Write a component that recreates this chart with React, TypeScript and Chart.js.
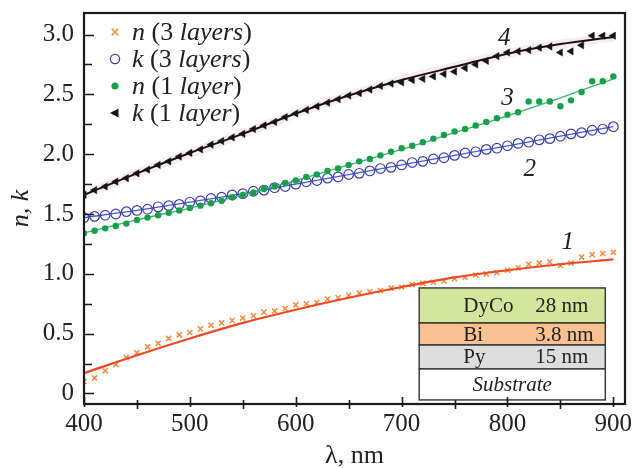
import React, { useEffect, useRef } from "react";
import { Chart, registerables } from "chart.js";

Chart.register(...registerables);

// ---------- data ----------
const LAMBDA = [
  400, 410, 420, 430, 440, 450, 460, 470, 480, 490,
  500, 510, 520, 530, 540, 550, 560, 570, 580, 590,
  600, 610, 620, 630, 640, 650, 660, 670, 680, 690,
  700, 710, 720, 730, 740, 750, 760, 770, 780, 790,
  800, 810, 820, 830, 840, 850, 860, 870, 880, 890, 900,
];
const FIT_LAMBDA = [400, 450, 500, 550, 600, 650, 700, 750, 800, 850, 900];

// n (3 layers)
const N3_POINTS = [
  0.10, 0.13, 0.19, 0.24, 0.30, 0.34, 0.39, 0.42, 0.46, 0.49,
  0.51, 0.54, 0.57, 0.59, 0.61, 0.63, 0.65, 0.68, 0.69, 0.71,
  0.74, 0.75, 0.76, 0.79, 0.80, 0.82, 0.84, 0.85, 0.86, 0.88,
  0.89, 0.91, 0.92, 0.93, 0.94, 0.96, 0.97, 0.99, 1.00, 1.01,
  1.03, 1.05, 1.08, 1.09, 1.10, 1.07, 1.09, 1.14, 1.16, 1.17, 1.18,
];
const N3_FIT = [0.17, 0.32, 0.46, 0.59, 0.70, 0.80, 0.89, 0.97, 1.03, 1.08, 1.12];

// k (3 layers)
const K3_POINTS = [
  1.47, 1.48, 1.49, 1.50, 1.52, 1.53, 1.54, 1.56, 1.57, 1.58,
  1.60, 1.61, 1.63, 1.64, 1.66, 1.67, 1.69, 1.70, 1.72, 1.73,
  1.75, 1.77, 1.78, 1.80, 1.81, 1.83, 1.84, 1.86, 1.88, 1.89,
  1.91, 1.93, 1.94, 1.96, 1.97, 1.99, 2.01, 2.02, 2.04, 2.05,
  2.07, 2.09, 2.10, 2.12, 2.13, 2.15, 2.17, 2.18, 2.20, 2.21, 2.23,
];
const K3_FIT = [1.47, 1.53, 1.60, 1.67, 1.75, 1.83, 1.91, 1.99, 2.07, 2.15, 2.23];

// n (1 layer)
const N1_POINTS = [
  1.34, 1.36, 1.38, 1.40, 1.42, 1.45, 1.47, 1.49, 1.51, 1.53,
  1.55, 1.57, 1.59, 1.61, 1.64, 1.66, 1.68, 1.71, 1.73, 1.76,
  1.78, 1.81, 1.83, 1.86, 1.88, 1.91, 1.94, 1.96, 1.99, 2.02,
  2.05, 2.07, 2.10, 2.13, 2.16, 2.19, 2.21, 2.24, 2.27, 2.30,
  2.33, 2.35, 2.44, 2.44, 2.44, 2.40, 2.45, 2.52, 2.61, 2.61, 2.65,
];
const N1_FIT = [1.34, 1.45, 1.55, 1.66, 1.78, 1.91, 2.04, 2.18, 2.32, 2.47, 2.63];

// k (1 layer)
const K1_POINTS = [
  1.66, 1.70, 1.73, 1.77, 1.80, 1.84, 1.87, 1.91, 1.94, 1.98,
  2.01, 2.04, 2.08, 2.11, 2.14, 2.17, 2.21, 2.24, 2.27, 2.31,
  2.34, 2.37, 2.40, 2.43, 2.46, 2.49, 2.51, 2.54, 2.57, 2.59,
  2.60, 2.62, 2.63, 2.65, 2.67, 2.69, 2.72, 2.75, 2.78, 2.82,
  2.85, 2.86, 2.87, 2.89, 2.90, 2.85, 2.86, 2.91, 2.99, 2.99, 2.99,
];
const K1_FIT = [1.66, 1.84, 2.01, 2.17, 2.34, 2.49, 2.62, 2.73, 2.84, 2.92, 2.98];

// axes
const X_TICKS = [400, 500, 600, 700, 800, 900];
const X_MINOR_TICKS = [450, 550, 650, 750, 850];
const Y_TICKS = [0, 0.5, 1.0, 1.5, 2.0, 2.5, 3.0];
const Y_MINOR_TICKS = [0.25, 0.75, 1.25, 1.75, 2.25, 2.75];
const X_MIN = 400;
const X_MAX = 911;
const Y_MIN = -0.088;
const Y_MAX = 3.18;

// curve numbers (data coords)
const CURVE_LABELS = ["1", "2", "3", "4"];
const CURVE_LABEL_X = [857, 821, 800, 797];
const CURVE_LABEL_Y = [1.26, 1.87, 2.47, 2.97];

// legend
const LEGEND_PARTS: [string, boolean][][] = [
  [["n", true], [" (3 ", false], ["layers", true], [")", false]],
  [["k", true], [" (3 ", false], ["layers", true], [")", false]],
  [["n", true], [" (1 ", false], ["layer", true], [")", false]],
  [["k", true], [" (1 ", false], ["layer", true], [")", false]],
];
const LEGEND_MARKERS = ["cross", "ring", "dot", "tri"];

// inset layer stack (data coords)
const INSET_NAMES = ["DyCo", "Bi", "Py", "Substrate"];
const INSET_THICK = ["28 nm", "3.8 nm", "15 nm", ""];
const INSET_COLORS = ["#d3e69b", "#f9c18f", "#dedede", "#ffffff"];
const INSET_EDGES_Y = [0.882, 0.589, 0.405, 0.205, -0.054];
const INSET_X = [716.6, 892.4];
const INSET_NAME_X = 758.2;
const INSET_THICK_X = 826.3;
const INSET_CENTER_X = 804.5;

// colours
const C_ORANGE_PT = "#f58a3a";
const C_ORANGE_LN = "#ef4a22";
const C_BLUE_PT = "#3a3fae";
const C_BLUE_LN = "#4a5cc4";
const C_GREEN_PT = "#17a04a";
const C_GREEN_LN = "#3ab56b";
const C_BLACK = "#141414";

const SERIF = '"Liberation Serif", "Times New Roman", serif';

const pts = (xs: number[], ys: number[]) => xs.map((x, i) => ({ x, y: ys[i] }));

function drawMarker(ctx: CanvasRenderingContext2D, kind: string, x: number, y: number) {
  ctx.save();
  if (kind === "cross") {
    ctx.strokeStyle = C_ORANGE_PT;
    ctx.lineWidth = 1.6;
    const r = 3.2;
    ctx.beginPath();
    ctx.moveTo(x - r, y - r); ctx.lineTo(x + r, y + r);
    ctx.moveTo(x + r, y - r); ctx.lineTo(x - r, y + r);
    ctx.stroke();
  } else if (kind === "ring") {
    ctx.strokeStyle = C_BLUE_PT;
    ctx.lineWidth = 1.3;
    ctx.beginPath();
    ctx.arc(x, y, 4.6, 0, Math.PI * 2);
    ctx.stroke();
  } else if (kind === "dot") {
    ctx.fillStyle = C_GREEN_PT;
    ctx.beginPath();
    ctx.arc(x, y, 3.6, 0, Math.PI * 2);
    ctx.fill();
  } else {
    ctx.fillStyle = C_BLACK;
    ctx.beginPath();
    ctx.moveTo(x - 5, y);
    ctx.lineTo(x + 3.5, y - 4.5);
    ctx.lineTo(x + 3.5, y + 4.5);
    ctx.closePath();
    ctx.fill();
  }
  ctx.restore();
}

const decorPlugin = {
  id: "decor",
  afterDraw(chart: any) {
    const { ctx, chartArea: a, scales } = chart;
    const xs = scales.x;
    const ys = scales.y;
    ctx.save();

    // inset layer stack
    const il = xs.getPixelForValue(INSET_X[0]);
    const ir = xs.getPixelForValue(INSET_X[1]);
    for (let i = 0; i < INSET_NAMES.length; i++) {
      const t = ys.getPixelForValue(INSET_EDGES_Y[i]);
      const b = ys.getPixelForValue(INSET_EDGES_Y[i + 1]);
      ctx.fillStyle = INSET_COLORS[i];
      ctx.fillRect(il, t, ir - il, b - t);
      ctx.strokeStyle = "#333";
      ctx.lineWidth = 1.4;
      ctx.strokeRect(il, t, ir - il, b - t);
      const cy = (t + b) / 2 + 1;
      ctx.fillStyle = "#222";
      ctx.textBaseline = "middle";
      if (INSET_THICK[i]) {
        ctx.font = `21px ${SERIF}`;
        ctx.textAlign = "left";
        ctx.fillText(INSET_NAMES[i], xs.getPixelForValue(INSET_NAME_X), cy);
        ctx.fillText(INSET_THICK[i], xs.getPixelForValue(INSET_THICK_X), cy);
      } else {
        ctx.font = `italic 21px ${SERIF}`;
        ctx.textAlign = "center";
        ctx.fillText(INSET_NAMES[i], xs.getPixelForValue(INSET_CENTER_X), cy);
      }
    }

    // frame
    ctx.strokeStyle = "#1a1a1a";
    ctx.lineWidth = 2.2;
    ctx.strokeRect(a.left, a.top, a.right - a.left, a.bottom - a.top);

    // y ticks (inward)
    ctx.lineWidth = 1.6;
    ctx.beginPath();
    Y_TICKS.forEach((v) => {
      const y = Math.round(ys.getPixelForValue(v)) + 0.5;
      ctx.moveTo(a.left, y); ctx.lineTo(a.left + 10, y);
    });
    Y_MINOR_TICKS.forEach((v) => {
      const y = Math.round(ys.getPixelForValue(v)) + 0.5;
      ctx.moveTo(a.left, y); ctx.lineTo(a.left + 8, y);
    });
    // x ticks
    X_TICKS.forEach((v) => {
      const x = Math.round(xs.getPixelForValue(v)) + 0.5;
      ctx.moveTo(x, a.bottom - 7); ctx.lineTo(x, a.bottom + 3);
    });
    X_MINOR_TICKS.forEach((v) => {
      const x = Math.round(xs.getPixelForValue(v)) + 0.5;
      ctx.moveTo(x, a.bottom - 4); ctx.lineTo(x, a.bottom + 5);
    });
    ctx.stroke();

    // curve numbers
    ctx.fillStyle = "#222";
    ctx.font = `italic 25px ${SERIF}`;
    ctx.textAlign = "center";
    ctx.textBaseline = "middle";
    CURVE_LABELS.forEach((s, i) => {
      ctx.fillText(s, xs.getPixelForValue(CURVE_LABEL_X[i]), ys.getPixelForValue(CURVE_LABEL_Y[i]));
    });

    // legend
    const mx = a.left + 31;
    const tx = a.left + 48;
    LEGEND_PARTS.forEach((parts, i) => {
      const y = a.top + 19 + i * 27;
      drawMarker(ctx, LEGEND_MARKERS[i], mx, y);
      let x = tx;
      ctx.textAlign = "left";
      ctx.textBaseline = "middle";
      ctx.fillStyle = "#222";
      parts.forEach(([txt, it]) => {
        ctx.font = `${it ? "italic " : ""}26px ${SERIF}`;
        ctx.fillText(txt, x, y + 1);
        x += ctx.measureText(txt).width;
      });
    });

    ctx.restore();
  },
};

export default function App() {
  const ref = useRef<HTMLCanvasElement | null>(null);

  useEffect(() => {
    if (!ref.current) return;
    const fitLine = (data: number[], color: string, width: number) => ({
      type: "line" as const,
      data: pts(FIT_LAMBDA, data),
      showLine: true,
      borderColor: color,
      borderWidth: width,
      pointRadius: 0,
      fill: false,
      cubicInterpolationMode: "monotone" as const,
    });
    const chart = new Chart(ref.current, {
      type: "scatter",
      data: {
        datasets: [
          {
            data: pts(LAMBDA, K1_POINTS),
            pointStyle: "triangle",
            rotation: -90,
            pointRadius: 4.2,
            backgroundColor: C_BLACK,
            borderColor: C_BLACK,
            borderWidth: 0.5,
          } as any,
          fitLine(K1_FIT, C_BLACK, 2),
          {
            data: pts(LAMBDA, N1_POINTS),
            pointStyle: "circle",
            pointRadius: 3.2,
            backgroundColor: C_GREEN_PT,
            borderWidth: 0,
          },
          fitLine(N1_FIT, C_GREEN_LN, 1.3),
          {
            data: pts(LAMBDA, K3_POINTS),
            pointStyle: "circle",
            pointRadius: 4.8,
            backgroundColor: "rgba(0,0,0,0)",
            borderColor: C_BLUE_PT,
            borderWidth: 1.2,
          },
          fitLine(K3_FIT, C_BLUE_LN, 1.3),
          fitLine(N3_FIT, C_ORANGE_LN, 2.2),
          {
            data: pts(LAMBDA, N3_POINTS),
            pointStyle: "crossRot",
            pointRadius: 3.6,
            borderColor: C_ORANGE_PT,
            borderWidth: 1.5,
          },
          {
            ...fitLine(K1_FIT, "rgba(240,190,205,0.3)", 9),
          },
        ] as any,
      },
      options: {
        animation: false,
        responsive: false,
        events: [],
        layout: { padding: { top: 13, right: 9, left: 0, bottom: 0 } },
        plugins: { legend: { display: false }, tooltip: { enabled: false } },
        scales: {
          x: {
            type: "linear",
            min: X_MIN,
            max: X_MAX,
            border: { display: false },
            grid: { display: false, drawTicks: false },
            afterBuildTicks: (s: any) => {
              s.ticks = X_TICKS.map((v) => ({ value: v }));
            },
            afterFit: (s: any) => {
              s.height = 64;
              s.paddingLeft = 0;
              s.paddingRight = 0;
              s.paddingTop = 0;
              s.paddingBottom = 0;
            },
            ticks: {
              autoSkip: false,
              maxRotation: 0,
              padding: 5,
              color: "#222",
              font: { family: SERIF, size: 25 },
              callback: (v: any) => String(v),
            },
            title: {
              display: true,
              text: "λ, nm",
              color: "#222",
              font: { family: SERIF, size: 26, lineHeight: 1 },
              padding: { top: 0, bottom: -1 },
            },
          },
          y: {
            type: "linear",
            min: Y_MIN,
            max: Y_MAX,
            border: { display: false },
            grid: { display: false, drawTicks: false },
            afterBuildTicks: (s: any) => {
              s.ticks = Y_TICKS.map((v) => ({ value: v }));
            },
            afterFit: (s: any) => {
              s.width = 84;
              s.paddingLeft = 0;
              s.paddingRight = 0;
              s.paddingTop = 0;
              s.paddingBottom = 0;
            },
            ticks: {
              autoSkip: false,
              padding: 10,
              color: "#222",
              font: { family: SERIF, size: 25 },
              callback: (v: any) => (Number(v) === 0 ? "0" : Number(v).toFixed(1)),
            },
            title: {
              display: true,
              text: "n, k",
              color: "#222",
              font: { family: SERIF, size: 26, style: "italic", lineHeight: 1 },
              padding: { top: 8, bottom: 0 },
            },
          },
        },
      },
      plugins: [decorPlugin],
    } as any);
    return () => chart.destroy();
  }, []);

  return (
    <div style={{ position: "fixed", left: 0, top: 0, width: 634, height: 468, background: "#fff" }}>
      <canvas ref={ref} width={634} height={468} style={{ display: "block" }} />
    </div>
  );
}
